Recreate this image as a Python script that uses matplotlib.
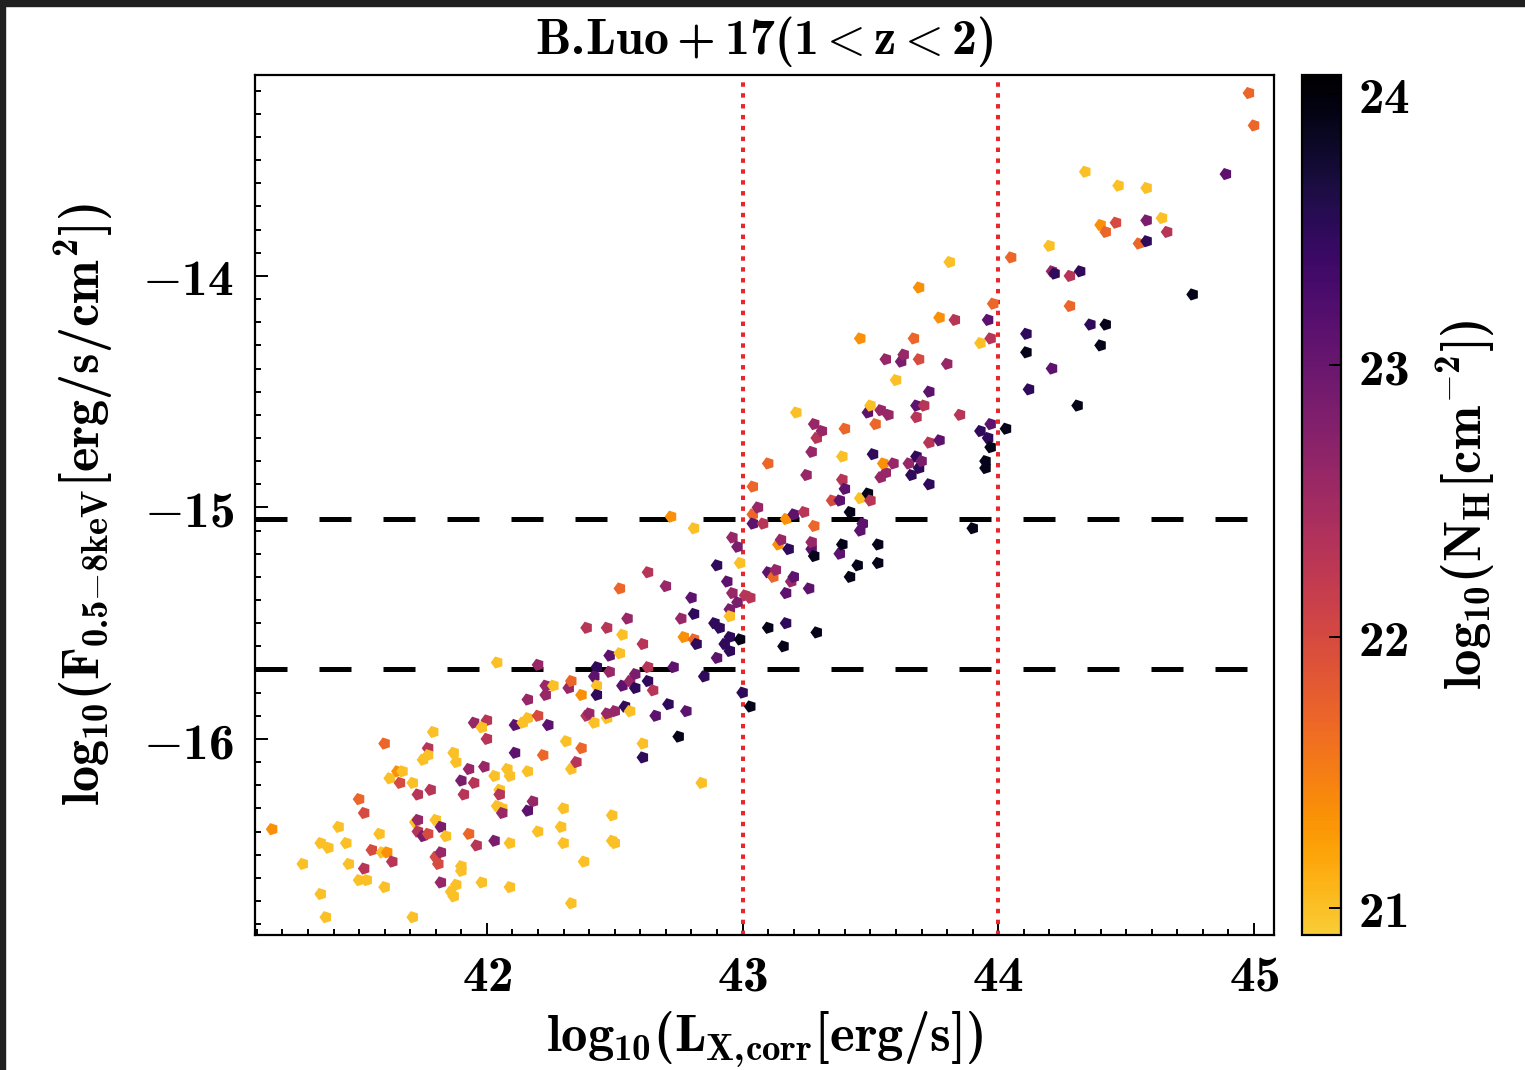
import numpy as np
import matplotlib
matplotlib.use("Agg")
import matplotlib.pyplot as plt
from matplotlib.colors import ListedColormap
from matplotlib.markers import MarkerStyle
from matplotlib.transforms import Affine2D
from matplotlib.patches import Rectangle

# Computer Modern bold for letters and digits; math symbols fall back to cm
plt.rcParams['mathtext.fontset'] = 'custom'
plt.rcParams['mathtext.rm'] = 'cmb10'
plt.rcParams['mathtext.it'] = 'cmb10'
plt.rcParams['mathtext.bf'] = 'cmb10'
plt.rcParams['mathtext.sf'] = 'cmb10'
plt.rcParams['mathtext.cal'] = 'cmmi10'
plt.rcParams['mathtext.fallback'] = 'cm'

# ---- data ----
Y, O, RO, R, RP, M, MP, P, DP, K = 21.0, 21.35, 21.7, 22.0, 22.3, 22.6, 22.85, 23.1, 23.5, 23.9

pts = [
 (41.16,-16.39,O),(41.28,-16.54,Y),(41.35,-16.67,Y),(41.37,-16.77,Y),(41.35,-16.45,Y),
 (41.38,-16.47,Y),(41.42,-16.38,Y),(41.45,-16.45,Y),(41.46,-16.54,Y),(41.50,-16.26,RO),
 (41.52,-16.32,R),(41.52,-16.56,RP),(41.50,-16.61,Y),(41.53,-16.61,Y),(41.55,-16.48,R),
 (41.58,-16.41,Y),(41.59,-16.49,Y),(41.61,-16.49,O),(41.63,-16.53,RP),(41.60,-16.64,Y),
 (41.60,-16.02,RO),(41.62,-16.17,Y),(41.65,-16.14,O),(41.67,-16.14,Y),(41.66,-16.19,R),
 (41.71,-16.19,Y),(41.73,-16.24,RP),(41.71,-16.77,Y),(41.72,-16.36,Y),(41.73,-16.35,M),
 (41.73,-16.40,RP),(41.75,-16.42,MP),(41.77,-16.41,R),(41.78,-16.22,RP),(41.77,-16.04,RP),
 (41.77,-16.07,Y),(41.75,-16.09,Y),(41.79,-15.97,Y),(41.80,-16.35,Y),(41.82,-16.38,MP),
 (41.80,-16.51,R),(41.81,-16.54,R),(41.82,-16.49,M),(41.82,-16.62,M),(41.84,-16.42,Y),
 (41.86,-16.66,Y),(41.87,-16.68,Y),(41.87,-16.06,Y),(41.88,-16.10,Y),(41.88,-16.63,Y),
 (41.90,-16.55,Y),(41.90,-16.57,Y),(41.90,-16.18,MP),(41.91,-16.24,RP),(41.93,-16.13,M),
 (41.95,-16.19,RP),(41.93,-16.41,RO),(41.96,-16.46,RP),(41.95,-15.93,M),(42.00,-15.92,RP),
 (41.98,-15.95,Y),(41.99,-16.12,M),(42.00,-16.00,RP),(41.98,-16.62,Y),(42.03,-16.16,Y),
 (42.03,-16.44,MP),(42.04,-15.67,Y),(42.05,-16.22,Y),(42.05,-16.24,RP),(42.04,-16.29,Y),
 (42.06,-16.30,Y),(42.06,-16.32,M),(42.08,-16.13,Y),(42.09,-16.16,Y),(42.09,-16.45,Y),
 (42.09,-16.64,Y),(42.11,-16.06,P),(42.11,-15.94,P),(42.14,-15.93,Y),(42.16,-15.91,Y),
 (42.16,-15.83,M),(42.16,-16.14,Y),(42.18,-16.27,M),(42.16,-16.31,P),(42.20,-16.40,Y),
 (42.20,-15.68,M),(42.20,-15.90,R),(42.22,-16.07,RO),(42.23,-15.77,M),(42.26,-15.77,Y),
 (42.23,-15.81,M),(42.24,-15.94,P),(42.29,-16.38,Y),(42.30,-16.30,Y),(42.30,-16.45,Y),
 (42.31,-16.01,Y),(42.32,-15.78,M),(42.33,-15.75,RO),(42.33,-16.13,Y),(42.35,-16.10,RP),
 (42.33,-16.71,Y),(42.37,-15.81,O),(42.37,-16.04,RO),(42.38,-16.53,Y),(42.39,-15.52,RP),
 (42.47,-15.52,RP),(42.39,-15.90,RP),(42.40,-15.89,M),(42.42,-15.93,Y),(42.47,-15.91,Y),
 (42.47,-15.89,M),(42.50,-15.88,M),(42.43,-15.69,DP),(42.42,-15.73,P),(42.43,-15.77,Y),
 (42.43,-15.81,DP),(42.48,-15.64,P),(42.52,-15.63,Y),(42.48,-15.71,M),(42.49,-16.33,Y),
 (42.49,-16.44,Y),(42.50,-16.45,Y),(42.52,-15.35,RO),(42.53,-15.55,Y),(42.53,-15.77,P),
 (42.54,-15.86,DP),(42.55,-15.48,M),(42.56,-15.88,Y),(42.56,-15.75,M),(42.58,-15.72,MP),
 (42.58,-15.78,DP),(42.61,-15.59,RP),(42.61,-16.02,Y),(42.61,-16.08,DP),(42.63,-15.69,RP),
 (42.63,-15.75,DP),(42.63,-15.28,RP),(42.65,-15.79,RP),(42.66,-15.90,P),(42.70,-15.34,M),
 (42.71,-15.85,DP),(42.72,-15.04,O),(42.73,-15.69,P),(42.75,-15.99,K),(42.76,-15.48,M),
 (42.77,-15.56,O),(42.81,-15.57,RO),(42.82,-15.59,DP),(42.78,-15.88,P),(42.80,-15.39,P),
 (42.81,-15.46,DP),(42.81,-15.09,Y),(42.84,-16.19,Y),(42.85,-15.73,DP),(42.89,-15.50,DP),
 (42.91,-15.52,DP),(42.90,-15.25,DP),(42.90,-15.65,P),(42.93,-15.59,DP),(42.95,-15.56,DP),
 (42.95,-15.62,DP),(42.94,-15.32,P),(42.95,-15.44,MP),(42.95,-15.47,Y),(42.96,-15.37,M),
 (42.96,-15.13,M),(42.98,-15.17,MP),(42.98,-15.41,MP),(42.99,-15.24,Y),(42.99,-15.57,K),
 (43.00,-15.80,DP),(43.01,-15.38,RP),(43.03,-15.39,RP),(43.03,-15.86,K),(43.04,-14.91,RO),
 (43.04,-15.03,RO),(43.04,-15.07,P),(43.06,-15.00,M),(43.08,-15.07,RP),(43.10,-15.28,P),
 (43.10,-15.52,K),(43.10,-14.81,RO),(43.12,-15.30,RO),(43.13,-15.27,M),(43.14,-15.16,O),
 (43.15,-15.14,M),(43.16,-15.60,K),(43.17,-15.05,O),(43.17,-15.50,DP),(43.17,-15.37,P),
 (43.18,-15.18,DP),(43.19,-15.32,M),(43.20,-15.03,P),(43.20,-15.30,P),(43.21,-14.59,Y),
 (43.24,-15.02,RP),(43.25,-14.86,M),(43.26,-15.35,P),(43.27,-15.18,P),(43.27,-15.15,M),
 (43.27,-14.76,M),(43.28,-14.64,M),(43.28,-15.08,RO),(43.28,-15.21,K),(43.29,-14.70,RP),
 (43.29,-15.54,K),(43.31,-14.67,M),(43.35,-14.97,R),(43.38,-14.97,P),(43.38,-15.20,P),
 (43.39,-14.78,Y),(43.39,-14.88,RP),(43.39,-15.16,K),(43.40,-14.66,RO),(43.40,-14.92,P),
 (43.42,-15.02,K),(43.42,-15.30,K),(43.45,-15.25,K),(43.46,-14.96,Y),(43.46,-15.10,P),
 (43.47,-15.07,P),(43.46,-14.27,O),(43.49,-14.94,K),(43.49,-14.59,P),(43.50,-14.56,Y),
 (43.50,-14.97,RP),(43.51,-14.77,DP),(43.52,-14.64,RO),(43.53,-15.16,K),(43.53,-15.24,K),
 (43.54,-14.58,M),(43.57,-14.60,M),(43.54,-14.87,M),(43.56,-14.85,M),(43.55,-14.81,O),
 (43.59,-14.81,M),(43.56,-14.36,M),(43.60,-14.45,Y),(43.62,-14.37,MP),(43.63,-14.34,M),
 (43.65,-14.81,M),(43.66,-14.86,DP),(43.67,-14.27,RO),(43.68,-14.56,P),(43.68,-14.61,RP),
 (43.68,-14.78,DP),(43.69,-14.36,R),(43.69,-14.83,DP),(43.69,-14.05,O),(43.71,-14.56,RP),
 (43.70,-14.80,MP),(43.73,-14.50,P),(43.73,-14.72,RP),(43.73,-14.90,DP),(43.77,-14.18,O),
 (43.77,-14.71,P),(43.80,-14.38,M),(43.81,-13.94,Y),(43.83,-14.19,RP),(43.85,-14.60,RP),
 (43.90,-15.09,K),(43.93,-14.29,Y),(43.93,-14.67,DP),(43.95,-14.80,K),(43.95,-14.83,K),
 (43.96,-14.70,DP),(43.97,-14.64,P),(43.96,-14.19,P),(43.97,-14.27,RP),(43.97,-14.74,K),
 (43.98,-14.12,RO),(44.03,-14.66,K),(44.05,-13.92,RO),(44.11,-14.25,DP),(44.11,-14.33,K),
 (44.12,-14.49,DP),(44.20,-13.87,Y),(44.21,-14.40,P),(44.21,-13.98,M),(44.22,-13.99,DP),
 (44.28,-14.00,RP),(44.28,-14.13,RO),(44.32,-13.98,DP),(44.31,-14.56,K),(44.34,-13.55,Y),
 (44.36,-14.21,DP),(44.42,-14.21,K),(44.40,-14.30,K),(44.40,-13.78,O),(44.42,-13.81,RO),
 (44.46,-13.77,R),(44.47,-13.61,Y),(44.55,-13.86,RO),(44.58,-13.62,Y),(44.58,-13.76,MP),
 (44.58,-13.85,DP),(44.64,-13.75,Y),(44.66,-13.81,RP),(44.76,-14.08,K),(44.89,-13.56,P),
 (44.98,-13.21,RO),(45.00,-13.35,RO),
]
log_lx = [p[0] for p in pts]
log_flux = [p[1] for p in pts]
log_nh = [p[2] for p in pts]

flux_limits = [-15.05, -15.70]
lum_limits = [43.0, 44.0]
xticks = [42, 43, 44, 45]
yticks = [-16, -15, -14]
cbticks = [21, 22, 23, 24]
nh_range = (20.9, 24.07)

# ---- figure ----
W, H = 1525, 1070
fig = plt.figure(figsize=(W / 100, H / 100), dpi=100)
ax = fig.add_axes([255 / W, 1 - 935 / H, 1019 / W, 860 / H])
cax = fig.add_axes([1302 / W, 1 - 935 / H, 39 / W, 860 / H])

cmap = ListedColormap(plt.cm.inferno(np.linspace(0.0, 0.88, 256))[::-1])
marker = MarkerStyle('p', transform=Affine2D().rotate_deg(90))

sc = ax.scatter(log_lx, log_flux, c=log_nh, cmap=cmap, vmin=nh_range[0], vmax=nh_range[1],
                marker=marker, s=85, linewidths=0, zorder=3)

for yl in flux_limits:
    ax.axhline(yl, color='black', lw=3.6, linestyle=(0, (6.4, 6.4)), zorder=2)
for xl in lum_limits:
    ax.axvline(xl, color='#e8262b', lw=2.9, linestyle=(0, (1.1, 1.6)), zorder=2)

ax.set_xlim(41.093, 45.078)
ax.set_ylim(-16.847, -13.132)
ax.set_xticks(xticks)
ax.set_xticklabels([r'$%d$' % t for t in xticks])
ax.set_yticks(yticks)
ax.set_yticklabels([r'$-%d$' % abs(t) for t in yticks])
ax.set_xticks(np.arange(41.1, 45.08, 0.1), minor=True)
ax.set_yticks(np.arange(-16.8, -13.13, 0.1), minor=True)
ax.tick_params(which='both', direction='in', top=False, right=False, width=1.4)
ax.tick_params(which='major', length=9, labelsize=37)
ax.tick_params(which='minor', length=4.5)
ax.tick_params(axis='x', which='major', pad=12)
ax.tick_params(axis='y', which='major', pad=15)
for sp in ax.spines.values():
    sp.set_linewidth(1.6)

ax.set_xlabel(r'$log_{10}(L_{X,\!corr}[erg/s])$', fontsize=38, labelpad=6)
ax.set_ylabel(r'$log_{10}(F_{0.5{-}8keV}[erg/s/cm^2])$', fontsize=37.5, labelpad=20)
ax.set_title(r'$B.\!Luo+17(1\mathcal{<}z\mathcal{<}2)$', fontsize=36, pad=15)

cb = fig.colorbar(sc, cax=cax)
cb.set_ticks(cbticks)
cb.set_ticklabels([r'$%d$' % t for t in cbticks])
cb.ax.tick_params(labelsize=37, direction='in', length=9, width=1.4, pad=12)
cb.outline.set_linewidth(1.6)
cb.set_label(r'$log_{10}(N_H[cm^{-2}])$', fontsize=38, labelpad=18)

# dark screenshot frame at top and left
fig.patches.append(Rectangle((0, 1 - 6 / H), 1, 6 / H, transform=fig.transFigure,
                             color='#202020', zorder=10))
fig.patches.append(Rectangle((0, 0), 5 / W, 1, transform=fig.transFigure,
                             color='#202020', zorder=10))

fig.savefig('out.png', dpi=100)
